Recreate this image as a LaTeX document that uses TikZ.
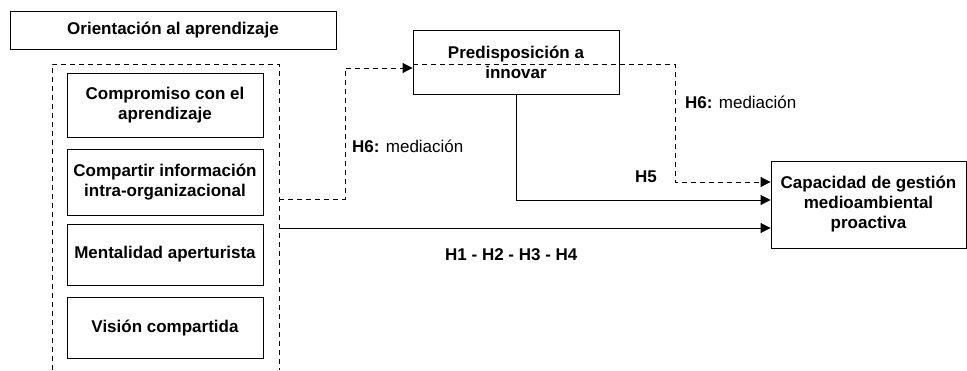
\documentclass[tikz,border=0pt]{standalone}
\usepackage{fontspec}
\setmainfont{Liberation Sans}
\usetikzlibrary{arrows.meta}
\newcommand{\tam}{\fontsize{17}{20}\selectfont}
\tikzset{
  caja/.style={draw,line width=0.9pt,align=center,inner sep=0pt,font=\tam\bfseries},
  trazo/.style={line width=1pt,dash pattern=on 5pt off 4pt},
  flecha/.style={line width=0.9pt,-{Triangle[length=10pt,width=10pt]}},
  etiq/.style={anchor=base west,inner sep=0pt,font=\tam}
}
\begin{document}
\begin{tikzpicture}[x=1pt,y=-1pt]
\useasboundingbox (0,0) rectangle (967,370);
\node[caja,minimum width=326pt,minimum height=38pt] (orient) at (173,30) {Orientación al aprendizaje};
\coordinate (oTL) at (52,64);
\coordinate (oTR) at (279,64);
\draw[trazo] (52,370) -- (oTL) -- (oTR) -- (279,370);
\node[caja,minimum width=196pt,minimum height=64pt] (comp) at (165,105) {Compromiso con el\\aprendizaje};
\node[caja,minimum width=196pt,minimum height=66pt] (info) at (165,182) {Compartir información\\intra-organizacional};
\node[caja,minimum width=196pt,minimum height=61pt] (ment) at (165,254.5) {Mentalidad aperturista};
\node[caja,minimum width=196pt,minimum height=61pt] (vis) at (165,328) {Visión compartida};
\node[caja,minimum width=206pt,minimum height=64pt] (pred) at (516,62) {Predisposición a\\innovar};
\node[caja,minimum width=195pt,minimum height=87pt] (cap) at (868.5,204.5) {Capacidad de gestión\\medioambiental\\proactiva};
\coordinate (sal1) at (279,199);
\coordinate (sal2) at (279,228);
\draw[trazo,flecha,line width=1pt] (sal1) -- (345,199) |- ([yshift=-6pt]pred.west);
\draw[trazo,flecha,line width=1pt] (pred.west |- oTR) -- (675,64) |- ([yshift=22.5pt]cap.west);
\draw[flecha] (pred.south) |- ([yshift=4.5pt]cap.west);
\draw[flecha] (sal2) -- (sal2 -| cap.west);
\node[etiq] (h6a) at (352,152) {\textbf{H6:} mediación};
\node[etiq] (h6b) at (685,108) {\textbf{H6:} mediación};
\node[etiq] (h5) at (635,182) {\textbf{H5}};
\node[etiq] (h14) at (445,260) {\textbf{H1 - H2 - H3 - H4}};
\end{tikzpicture}
\end{document}
